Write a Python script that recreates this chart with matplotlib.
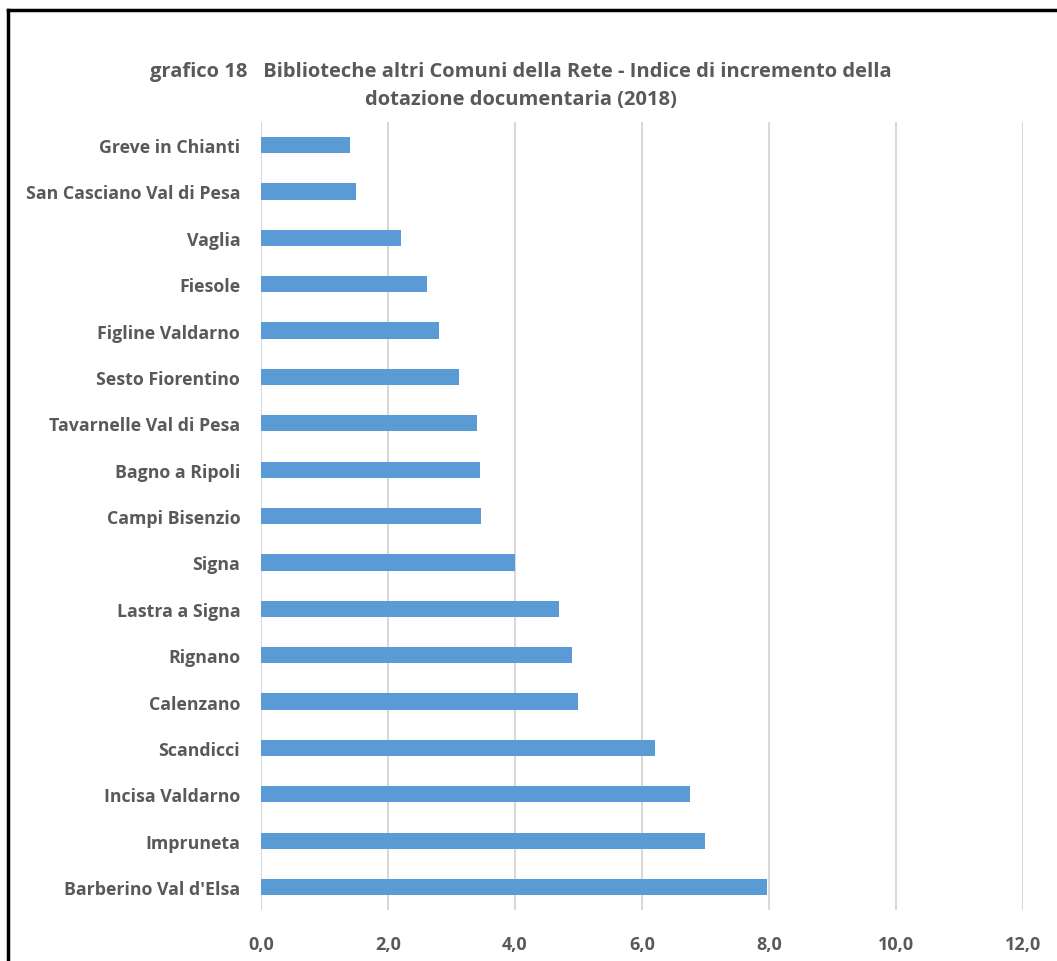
import numpy as np
import matplotlib as mpl
mpl.use("Agg")
import matplotlib.pyplot as plt
from matplotlib.lines import Line2D

comuni = ["Greve in Chianti", "San Casciano Val di Pesa", "Vaglia", "Fiesole",
          "Figline Valdarno", "Sesto Fiorentino", "Tavarnelle Val di Pesa",
          "Bagno a Ripoli", "Campi Bisenzio", "Signa", "Lastra a Signa",
          "Rignano", "Calenzano", "Scandicci", "Incisa Valdarno", "Impruneta",
          "Barberino Val d'Elsa"]
indice = [1.40, 1.50, 2.20, 2.61, 2.80, 3.12, 3.40, 3.45, 3.46, 4.00, 4.69,
          4.90, 4.99, 6.20, 6.76, 6.99, 7.97]
xticks = [0, 2, 4, 6, 8, 10, 12]
xlabels = ["0,0", "2,0", "4,0", "6,0", "8,0", "10,0", "12,0"]

plt.rcParams['font.family'] = ['Open Sans', 'DejaVu Sans']
grey = "#595959"

fig = plt.figure(figsize=(10.57, 9.62), dpi=100)
ax = fig.add_axes([0.2469, 0.0528, 0.7209, 0.8195])

y = np.arange(len(comuni))
ax.barh(y, indice, height=0.35, color="#5B9BD5", zorder=3)

ax.set_xlim(0, 12)
ax.set_ylim(len(comuni) - 0.5, -0.5)
ax.set_xticks(xticks)
ax.set_xticklabels(xlabels)
ax.set_yticks(y)
ax.set_yticklabels(comuni)
ax.grid(axis="x", color="#D9D9D9", linewidth=1.5, zorder=0)
ax.tick_params(axis="y", length=0, labelsize=12.8, labelcolor=grey, pad=15)
ax.tick_params(axis="x", length=0, labelsize=13, labelcolor=grey, pad=18)
for lab in ax.get_xticklabels() + ax.get_yticklabels():
    lab.set_fontweight("bold")
for s in ax.spines.values():
    s.set_visible(False)

fig.text(0.493, 1 - 72 / 962, "grafico 18   Biblioteche altri Comuni della Rete - Indice di incremento della",
         ha="center", va="center", fontsize=14.5, fontweight="bold", color=grey)
fig.text(0.493, 1 - 100 / 962, "dotazione documentaria (2018)",
         ha="center", va="center", fontsize=14.5, fontweight="bold", color=grey)

# cornice del grafico
fig.add_artist(Line2D([8 / 1057, 8 / 1057], [0, 1 - 11 / 962], color="black", linewidth=2.5))
fig.add_artist(Line2D([8 / 1057, 1], [1 - 11 / 962, 1 - 11 / 962], color="black", linewidth=2.5))

fig.savefig("out.png", dpi=100)
